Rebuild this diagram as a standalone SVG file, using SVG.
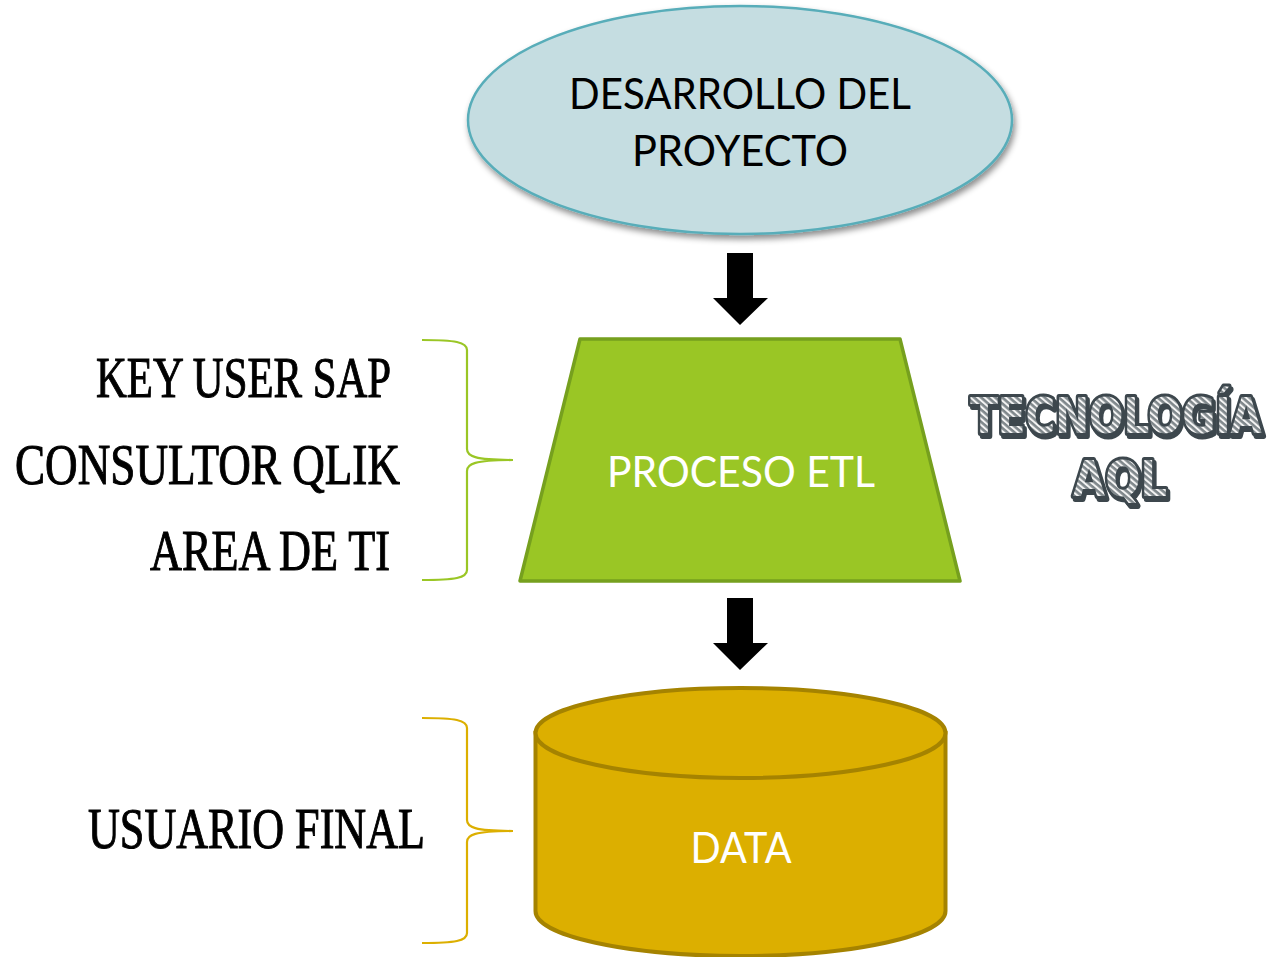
<svg xmlns="http://www.w3.org/2000/svg" width="1277" height="957" viewBox="0 0 1277 957">
  <defs>
    <style>
      .shape-text { font-family: "Lato", "Liberation Sans", sans-serif; font-size: 42px; text-anchor: middle; }
      .side-label { font-family: "Liberation Serif", "DejaVu Serif", serif; font-size: 56px; fill: #000; stroke: #000; stroke-width: 1; text-anchor: end; }
      .deco { font-family: "DejaVu Sans", "Liberation Sans", sans-serif; font-weight: bold; font-size: 50px; text-anchor: middle;
              fill: url(#hatch); stroke: #3c474d; stroke-width: 6; paint-order: stroke fill; stroke-linejoin: round; filter: url(#blockShadow); }
      .arrow { fill: #000; }
      .brace { fill: none; stroke-width: 2.2; }
    </style>
    <filter id="softShadow" x="-10%" y="-10%" width="120%" height="130%">
      <feDropShadow dx="2" dy="4" stdDeviation="3" flood-color="#000" flood-opacity="0.45"/>
    </filter>
    <!-- solid offset shadow behind the outlined lettering -->
    <filter id="blockShadow" x="-5%" y="-20%" width="110%" height="140%">
      <feOffset in="SourceAlpha" dx="2" dy="3" result="off"/>
      <feFlood flood-color="#3c474d"/>
      <feComposite in2="off" operator="in" result="shadow"/>
      <feMerge>
        <feMergeNode in="shadow"/>
        <feMergeNode in="SourceGraphic"/>
      </feMerge>
    </filter>
    <pattern id="hatch" width="5" height="5" patternUnits="userSpaceOnUse" patternTransform="rotate(-55)">
      <rect width="5" height="5" fill="#7f878b"/>
      <rect width="2.2" height="5" fill="#f4f4f4"/>
    </pattern>
  </defs>

  <!-- project development ellipse -->
  <g id="desarrollo">
    <ellipse cx="740" cy="120" rx="272" ry="114" fill="#c5dde1" stroke="#58adb9" stroke-width="2.5" filter="url(#softShadow)"/>
    <text class="shape-text" x="740" y="109" fill="#000" font-size="44" textLength="342" lengthAdjust="spacingAndGlyphs">DESARROLLO DEL</text>
    <text class="shape-text" x="740" y="166" fill="#000" font-size="44" textLength="216" lengthAdjust="spacingAndGlyphs">PROYECTO</text>
  </g>

  <!-- ETL trapezoid -->
  <g id="proceso-etl">
    <polygon points="580,339 900,339 960,581 520,581" fill="#9ac625" stroke="#76a01e" stroke-width="3.5" stroke-linejoin="round"/>
    <text class="shape-text" x="741" y="487" fill="#fff" font-size="40" textLength="268" lengthAdjust="spacingAndGlyphs">PROCESO ETL</text>
  </g>

  <!-- data cylinder -->
  <g id="data">
    <path d="M535.5,733 V911 A205,45 0 0 0 945.5,911 V733 Z" fill="#dcaf00" stroke="#a58300" stroke-width="4"/>
    <ellipse cx="740.5" cy="733" rx="205" ry="45" fill="#dcaf00" stroke="#a58300" stroke-width="4"/>
    <text class="shape-text" x="741" y="863" fill="#fff" font-size="40" textLength="101" lengthAdjust="spacingAndGlyphs">DATA</text>
  </g>

  <!-- technology label, squeezed horizontally -->
  <g id="tecnologia">
    <text class="deco" transform="translate(1116,433) scale(0.81,1)" x="0" y="0">TECNOLOGÍA</text>
    <text class="deco" transform="translate(1120,496) scale(0.83,1)" x="0" y="0">AQL</text>
  </g>

  <!-- team roles -->
  <g id="roles">
    <text class="side-label" x="391" y="397" textLength="295" lengthAdjust="spacingAndGlyphs">KEY USER SAP</text>
    <text class="side-label" x="400" y="484" textLength="385" lengthAdjust="spacingAndGlyphs">CONSULTOR QLIK</text>
    <text class="side-label" x="390" y="570" textLength="240" lengthAdjust="spacingAndGlyphs">AREA DE TI</text>
  </g>

  <g id="usuario-final">
    <text class="side-label" x="425" y="848" textLength="337" lengthAdjust="spacingAndGlyphs">USUARIO FINAL</text>
  </g>

  <!-- connectors: flow arrows and grouping braces -->
  <g id="connectors">
    <polygon class="arrow" points="727,253 753,253 753,298 768,298 740,325 713,298 727,298"/>
    <polygon class="arrow" points="727,598 753,598 753,643 768,643 740,670 713,643 727,643"/>
    <path class="brace" stroke="#9ac625" d="M422,340 C455,340 467,342 467,350 L467,449 C467,456 474,460 513,460 C474,460 467,464 467,471 L467,570 C467,578 455,580 422,580"/>
    <path class="brace" stroke="#dcaf00" d="M422,718 C455,718 467,720 467,728 L467,820 C467,827 474,831 513,831 C474,831 467,835 467,842 L467,933 C467,941 455,943 422,943"/>
  </g>
</svg>
